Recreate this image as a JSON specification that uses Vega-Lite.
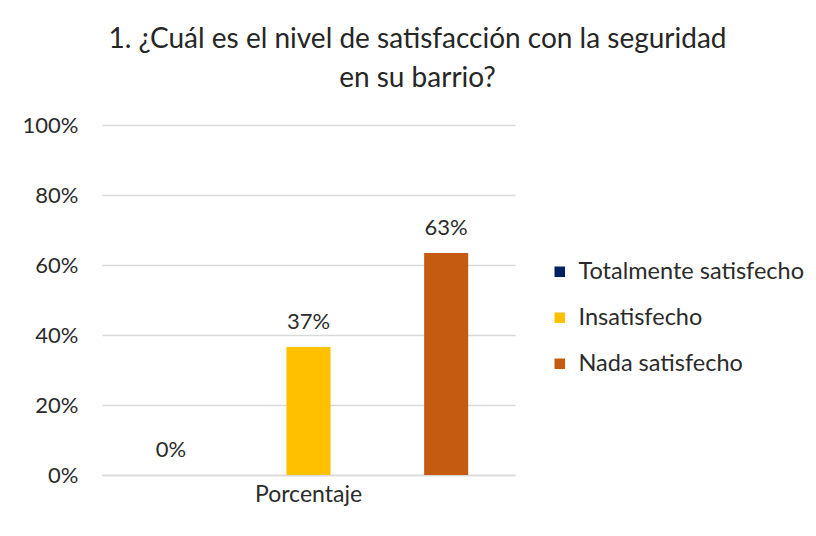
{
  "$schema": "https://vega.github.io/schema/vega-lite/v6.json",
  "autosize": "none",
  "width": 413,
  "height": 350,
  "padding": {"left": 102, "top": 125, "right": 301, "bottom": 61},
  "background": "white",
  "config": {
    "view": {"stroke": null},
    "font": "Lato",
    "text": {"font": "Lato"}
  },
  "title": {
    "text": ["1. ¿Cuál es el nivel de satisfacción con la seguridad", "en su barrio?"],
    "font": "Lato",
    "fontSize": 28,
    "fontWeight": "normal",
    "color": "#262626",
    "anchor": "middle",
    "dx": 109,
    "lineHeight": 39,
    "offset": 21,
    "limit": 800
  },
  "data": {
    "values": [
      {"grupo": "Porcentaje", "nivel": "Totalmente satisfecho", "valor": 0.0},
      {"grupo": "Porcentaje", "nivel": "Insatisfecho", "valor": 0.366},
      {"grupo": "Porcentaje", "nivel": "Nada satisfecho", "valor": 0.634}
    ]
  },
  "encoding": {
    "x": {
      "field": "grupo",
      "type": "nominal",
      "title": null,
      "scale": {"paddingInner": 0, "paddingOuter": 0},
      "axis": {
        "labelAngle": 0,
        "labelFont": "Lato",
        "labelFontSize": 23,
        "labelColor": "#2b2b2b",
        "labelPadding": 8,
        "ticks": false,
        "domainColor": "#d9d9d9",
        "domainWidth": 1.5
      }
    },
    "xOffset": {
      "field": "nivel",
      "type": "nominal",
      "scale": {"domain": ["Totalmente satisfecho", "Insatisfecho", "Nada satisfecho"], "paddingInner": 0.68, "paddingOuter": 0.34}
    },
    "y": {
      "field": "valor",
      "type": "quantitative",
      "title": null,
      "scale": {"domain": [0, 1]},
      "axis": {
        "format": ".0%",
        "values": [0, 0.2, 0.4, 0.6, 0.8, 1],
        "labelOverlap": false,
        "labelFont": "Lato",
        "labelFontSize": 22,
        "labelColor": "#2b2b2b",
        "labelPadding": 24,
        "ticks": false,
        "domain": false,
        "gridColor": "#d9d9d9",
        "gridWidth": 1.5
      }
    }
  },
  "layer": [
    {
      "mark": {"type": "bar"},
      "encoding": {
        "color": {
          "field": "nivel",
          "type": "nominal",
          "scale": {
            "domain": ["Totalmente satisfecho", "Insatisfecho", "Nada satisfecho"],
            "range": ["#002060", "#FFC000", "#C55A11"]
          },
          "legend": {
            "title": null,
            "orient": "none",
            "legendX": 446,
            "legendY": 135,
            "symbolType": "square",
            "symbolSize": 110,
            "symbolStrokeWidth": 0,
            "labelFont": "Lato",
            "labelFontSize": 23.5,
            "labelColor": "#2b2b2b",
            "labelOffset": 7,
            "rowPadding": 21,
            "labelLimit": 300
          }
        }
      }
    },
    {
      "mark": {"type": "text", "baseline": "bottom", "dy": -13, "font": "Lato", "fontSize": 22, "color": "#2b2b2b"},
      "encoding": {
        "text": {"field": "valor", "type": "quantitative", "format": ".0%"}
      }
    }
  ]
}
